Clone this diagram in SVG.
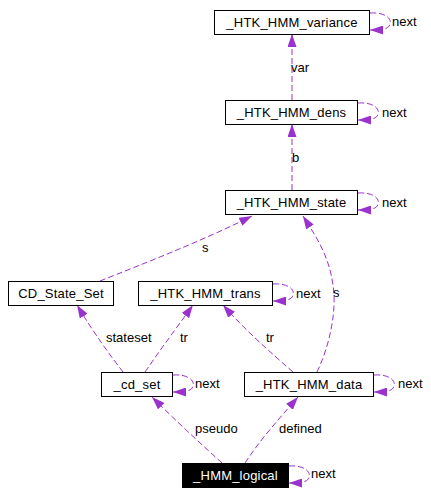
<svg xmlns="http://www.w3.org/2000/svg" width="431" height="495" viewBox="0 0 431 495">
<style>
.box{fill:#ffffff;stroke:#000000;stroke-width:1}
.dark{fill:#000000;stroke:#000000;stroke-width:1}
.t{font-family:"Liberation Sans",Arial,sans-serif;font-size:13px;fill:#000000}
.c{text-anchor:middle;letter-spacing:0.2px}
.w{fill:#ffffff}
.e{fill:none;stroke:#9a32cd;stroke-width:1;stroke-dasharray:6,3;marker-end:url(#ah)}
</style>
<defs>
<marker id="ah" markerWidth="13" markerHeight="9" refX="13" refY="4.5" orient="auto" markerUnits="userSpaceOnUse">
<path d="M0,0 L13,4.5 L0,9 z" fill="#9a32cd" stroke="none"/>
</marker>
</defs>
<g id="connectors">
<path class="e" d="M292,100 L292,34"/>
<text class="t" x="291" y="72">var</text>
<path class="e" d="M370,13 C384,12 392,18 390,24 C389,28 386,30 370,30"/>
<text class="t" x="392" y="26">next</text>
<path class="e" d="M292,190 L292,124"/>
<text class="t" x="292" y="162">b</text>
<path class="e" d="M358,103 C372,102 380,108 378,114 C377,118 374,120 358,120"/>
<text class="t" x="382" y="117">next</text>
<path class="e" d="M100,281 C140,265 200,242 252,216"/>
<text class="t" x="202" y="252">s</text>
<path class="e" d="M317,372 C330,345 337,310 333,285 C329,255 315,235 303,216"/>
<text class="t" x="333" y="297">s</text>
<path class="e" d="M358,193 C372,192 380,198 378,204 C377,208 374,210 358,210"/>
<text class="t" x="382" y="207">next</text>
<path class="e" d="M123,372 C110,355 95,335 77,305"/>
<text class="t" x="106" y="342">stateset</text>
<path class="e" d="M145,372 C160,350 175,330 193,305"/>
<text class="t" x="180" y="342">tr</text>
<path class="e" d="M293,372 C270,352 245,330 223,305"/>
<text class="t" x="266" y="342">tr</text>
<path class="e" d="M273,284 C287,283 295,289 293,295 C292,299 289,301 273,301"/>
<text class="t" x="296" y="298">next</text>
<path class="e" d="M222,463 C200,443 175,420 152,397"/>
<text class="t" x="195" y="433">pseudo</text>
<path class="e" d="M245,463 C260,440 278,420 298,397"/>
<text class="t" x="279" y="433">defined</text>
<path class="e" d="M173,375 C187,374 195,380 193,386 C192,390 189,392 173,392"/>
<text class="t" x="195" y="388">next</text>
<path class="e" d="M374,375 C388,374 396,380 394,386 C393,390 390,392 374,392"/>
<text class="t" x="398" y="388">next</text>
<path class="e" d="M289,466 C303,465 311,471 309,477 C308,481 305,483 289,483"/>
<text class="t" x="311" y="478">next</text>
</g>
<g id="node_variance">
<rect class="box" x="214.5" y="10.5" width="155" height="24"/>
<text class="t c" x="292" y="27">_HTK_HMM_variance</text>
</g>
<g id="node_dens">
<rect class="box" x="225.5" y="100.5" width="132" height="24"/>
<text class="t c" x="291.5" y="117">_HTK_HMM_dens</text>
</g>
<g id="node_state">
<rect class="box" x="225.5" y="190.5" width="132" height="24"/>
<text class="t c" x="291.5" y="207">_HTK_HMM_state</text>
</g>
<g id="node_cd_state_set">
<rect class="box" x="8.5" y="281.5" width="105" height="24"/>
<text class="t c" x="61" y="298">CD_State_Set</text>
</g>
<g id="node_trans">
<rect class="box" x="138.5" y="281.5" width="134" height="24"/>
<text class="t c" x="205.5" y="298">_HTK_HMM_trans</text>
</g>
<g id="node_cd_set">
<rect class="box" x="101.5" y="372.5" width="71" height="24"/>
<text class="t c" x="137" y="389">_cd_set</text>
</g>
<g id="node_data">
<rect class="box" x="244.5" y="372.5" width="129" height="24"/>
<text class="t c" x="309" y="389">_HTK_HMM_data</text>
</g>
<g id="node_logical">
<rect class="dark" x="182.5" y="463.5" width="106" height="24"/>
<text class="t c w" x="235.5" y="480">_HMM_logical</text>
</g>
</svg>
